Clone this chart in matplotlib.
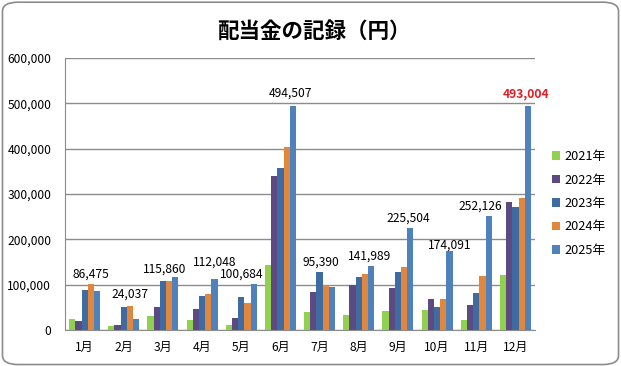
import numpy as np
import matplotlib.pyplot as plt
from matplotlib.patches import FancyBboxPatch
from matplotlib.ticker import FuncFormatter

plt.rcParams['font.family'] = ['Noto Sans CJK JP', 'DejaVu Sans']

# data
months = ['1月', '2月', '3月', '4月', '5月', '6月', '7月', '8月', '9月', '10月', '11月', '12月']
years = ['2021年', '2022年', '2023年', '2024年', '2025年']
y2021 = [25000, 9000, 31000, 22000, 11000, 144000, 40000, 33000, 42000, 44000, 22000, 122000]
y2022 = [20000, 11000, 50000, 47000, 27000, 340000, 84000, 100000, 93000, 69000, 56000, 282000]
y2023 = [89000, 50000, 107000, 74000, 72000, 358000, 127000, 116000, 127000, 51000, 82000, 271000]
y2024 = [102000, 52000, 107000, 80000, 60000, 403000, 100000, 124000, 138000, 69000, 118000, 291000]
y2025 = [86475, 24037, 115860, 112048, 100684, 494507, 95390, 141989, 225504, 174091, 252126, 493004]
colors = ['#92D050', '#5C4A80', '#3F6BA3', '#E0873D', '#4F81BD']

# hand nudges of the value labels (pixels), as they were placed in the original
label_dx = [-6, -6, -11, 0, -12, -2, -11, -2, -2, 0, -8, -2]
label_dy = [17, 25, 8, 17, 10, 13, 25, 9, 10, 6, 10, 13]

series = [y2021, y2022, y2023, y2024, y2025]

fig = plt.figure(figsize=(6.21, 3.66), dpi=100)
ax = fig.add_axes([0.1047, 0.0984, 0.7568, 0.7432])

x = np.arange(len(months))
w = 0.158
for i, (vals, name, c) in enumerate(zip(series, years, colors)):
    ax.bar(x + (i - 2) * w, vals, width=w, color=c, label=name, zorder=3)

# labels for 2025 values, the latest month in red
for i, v in enumerate(y2025):
    last = i == len(y2025) - 1
    ax.annotate(f'{v:,}', (x[i] + 2 * w, v), xytext=(label_dx[i], label_dy[i]),
                textcoords='offset pixels', ha='center', va='center',
                fontsize=8.7, color='#E31B23' if last else 'black',
                fontweight='bold' if last else 'normal', zorder=4)

ax.set_xlim(-0.5, len(months) - 0.5)
ax.set_ylim(0, 600000)
ax.set_yticks(np.arange(0, 600001, 100000))
ax.yaxis.set_major_formatter(FuncFormatter(lambda v, p: f'{int(v):,}'))
ax.set_xticks(x)
ax.set_xticklabels(months)
ax.tick_params(length=0, labelsize=8.7, pad=8)
ax.tick_params(axis='y', pad=10)
ax.grid(axis='y', color='#8C8C8C', lw=1, zorder=0)
for s in ['top', 'right']:
    ax.spines[s].set_visible(False)
for s in ['left', 'bottom']:
    ax.spines[s].set_color('#8C8C8C')

ax.legend(loc='center left', bbox_to_anchor=(1.025, 0.465), frameon=False,
          fontsize=9.2, handlelength=0.65, handleheight=0.65, handletextpad=0.3,
          labelspacing=0.82, borderaxespad=0)

fig.text(0.505, 0.915, '配当金の記録（円）', ha='center', va='center',
         fontsize=15.5, fontweight='bold')

border = FancyBboxPatch((0.004, 0.004), 0.992, 0.99, boxstyle='round,pad=0,rounding_size=0.025',
                        transform=fig.transFigure, fill=False, ec='#8C8C8C', lw=1.2)
fig.patches.append(border)

fig.savefig('out.png', dpi=100)
